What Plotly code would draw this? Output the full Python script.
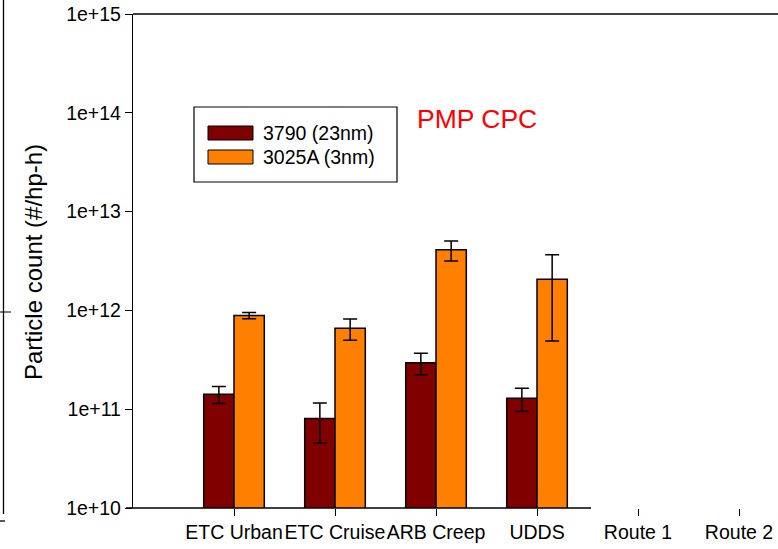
import plotly.graph_objects as go

# Test cycles and measured particle emission rates (#/hp-h)
cycles = ["ETC Urban", "ETC Cruise", "ARB Creep", "UDDS", "Route 1", "Route 2"]
series_names = ["3790 (23nm)", "3025A (3nm)"]
series_colors = ["#800000", "#FF8000"]
cpc_3790 = [1.42e11, 8.05e10, 2.96e11, 1.29e11, None, None]
cpc_3790_err = [2.8e10, 3.5e10, 7.3e10, 3.4e10, None, None]
cpc_3025a = [8.9e11, 6.6e11, 4.1e12, 2.07e12, None, None]
cpc_3025a_err = [6.5e10, 1.6e11, 9.3e11, 1.58e12, None, None]
y_tickvals = [1e10, 1e11, 1e12, 1e13, 1e14, 1e15]
y_ticktext = ["1e+10", "1e+11", "1e+12", "1e+13", "1e+14", "1e+15"]

W, H = 778, 549
L, R, T, B = 133, 0, 14, 41
PW, PH = W - L - R, H - T - B


def px(x):
    return (x - L) / PW


def py(y):
    return (H - B - y) / PH


FONT = "Liberation Sans, Arial, sans-serif"

fig = go.Figure()
for name, color, vals, errs in [
    (series_names[0], series_colors[0], cpc_3790, cpc_3790_err),
    (series_names[1], series_colors[1], cpc_3025a, cpc_3025a_err),
]:
    fig.add_trace(go.Bar(
        x=cycles, y=vals, name=name,
        marker=dict(color=color, line=dict(color="black", width=1.5)),
        error_y=dict(type="data", array=errs, visible=True,
                     color="black", thickness=1.5, width=7),
        showlegend=False,
    ))

shapes = [
    # top frame line
    dict(type="line", xref="paper", yref="paper", x0=0, x1=1, y0=1, y1=1,
         line=dict(color="black", width=1.3)),
    # bottom axis line (stops after UDDS)
    dict(type="line", xref="paper", yref="paper", x0=px(126), x1=px(591),
         y0=0, y1=0, line=dict(color="black", width=1.3)),
    # stray axis fragment at the far left
    dict(type="line", xref="paper", yref="paper", x0=px(3.5), x1=px(3.5),
         y0=py(0), y1=py(514), line=dict(color="black", width=1.3)),
    dict(type="line", xref="paper", yref="paper", x0=px(0), x1=px(11),
         y0=py(312), y1=py(312), line=dict(color="black", width=1)),
    dict(type="line", xref="paper", yref="paper", x0=px(0), x1=px(5),
         y0=py(521), y1=py(521), line=dict(color="black", width=1.3)),
    # legend box
    dict(type="rect", xref="paper", yref="paper", x0=px(194), x1=px(397),
         y0=py(182), y1=py(107), line=dict(color="black", width=1.2),
         fillcolor="white"),
]
annotations = []
for i, (name, color) in enumerate(zip(series_names, series_colors)):
    top = 126 + 24 * i
    shapes.append(dict(type="rect", xref="paper", yref="paper",
                       x0=px(208), x1=px(253), y0=py(top + 14), y1=py(top),
                       line=dict(color="black", width=1), fillcolor=color))
    annotations.append(dict(xref="paper", yref="paper", x=px(261), y=py(top + 7),
                            text=name, showarrow=False, xanchor="left",
                            yanchor="middle",
                            font=dict(family=FONT, size=19.5, color="black")))

annotations.append(dict(xref="paper", yref="paper", x=px(415), y=py(119),
                        text="PMP CPC", showarrow=False, xanchor="left",
                        yanchor="middle",
                        font=dict(family=FONT, size=26.5, color="#FF0000")))
annotations.append(dict(xref="paper", yref="paper", x=px(33), y=py(262),
                        text="Particle count (#/hp-h)", showarrow=False,
                        textangle=-90, xanchor="center", yanchor="middle",
                        font=dict(family=FONT, size=24, color="black")))

fig.update_layout(
    width=W, height=H,
    margin=dict(l=L, r=R, t=T, b=B, pad=0, autoexpand=False),
    paper_bgcolor="white", plot_bgcolor="white",
    barmode="group", bargap=0.4, bargroupgap=0,
    shapes=shapes, annotations=annotations,
    font=dict(family=FONT, color="black"),
)
fig.update_xaxes(
    type="category", range=[-1.0, 5.386], showline=False, showgrid=False,
    zeroline=False, ticks="outside", ticklen=7, tickwidth=1.3,
    tickcolor="black", tickangle=0, automargin=False,
    tickfont=dict(family=FONT, size=19.5, color="black"),
)
fig.update_yaxes(
    type="log", range=[10, 15], showline=True, linecolor="black",
    linewidth=1.3, showgrid=False, zeroline=False, ticks="outside",
    ticklen=7, tickwidth=1.3, tickcolor="black", automargin=False,
    tickvals=y_tickvals, ticktext=y_ticktext,
    tickfont=dict(family=FONT, size=19.5, color="black"),
)

fig.write_html("out.html")
